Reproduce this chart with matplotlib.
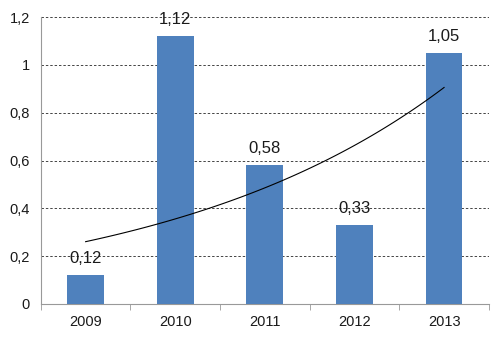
import matplotlib.pyplot as plt
import numpy as np

plt.rcParams['font.family'] = ['Liberation Sans', 'DejaVu Sans']

years = ['2009', '2010', '2011', '2012', '2013']
values = [0.12, 1.12, 0.58, 0.33, 1.05]
labels = ['0,12', '1,12', '0,58', '0,33', '1,05']
ytick_labels = ['0', '0,2', '0,4', '0,6', '0,8', '1', '1,2']

fig = plt.figure(figsize=(5.04, 3.43), dpi=100)
ax = fig.add_axes([0.081, 0.114, 0.889, 0.836])

x = np.arange(len(years))
ax.bar(x, values, width=0.41, color='#4F81BD', zorder=3)

for xi, v, lab in zip(x, values, labels):
    ax.annotate(lab, (xi, v), xytext=(0, 6.5), textcoords='offset points',
                ha='center', va='bottom', fontsize=12, color='#1a1a1a', zorder=4)

# exponential trendline (least squares on log values, as Excel does)
b, a = np.polyfit(x + 1, np.log(values), 1)
xt = np.linspace(0, len(years) - 1, 100)
ax.plot(xt, np.exp(a + b * (xt + 1)), color='black', lw=0.8, zorder=5)

ax.set_xlim(-0.5, len(years) - 0.5)
ax.set_ylim(0, 1.2)
ax.set_yticks(np.arange(0, 1.21, 0.2))
ax.set_yticklabels(ytick_labels)
ax.set_xticks(x)
ax.set_xticklabels(years)
ax.set_xticks(np.arange(-0.5, len(years)), minor=True)

ax.yaxis.grid(True, linestyle=(0, (2.5, 2)), color='#444444', lw=0.7, zorder=0)
for s in ['top', 'right']:
    ax.spines[s].set_visible(False)
ax.spines['left'].set_color('#999999')
ax.spines['bottom'].set_color('#999999')
ax.tick_params(axis='y', length=0, labelsize=10.5, pad=8, colors='#1a1a1a')
ax.tick_params(axis='x', which='major', length=0, labelsize=10.5, pad=8, colors='#1a1a1a')
ax.tick_params(axis='x', which='minor', length=4, color='#999999')

fig.savefig('out.png', dpi=100)
